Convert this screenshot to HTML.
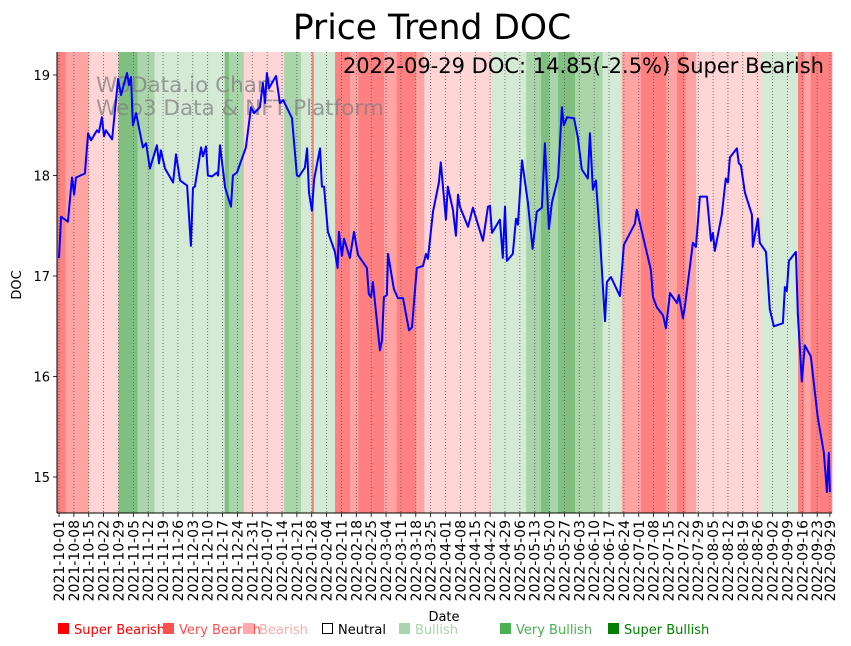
<!DOCTYPE html>
<html><head><meta charset="utf-8"><style>
body{margin:0;background:#fff;}
svg{display:block;font-family:"DejaVu Sans","Liberation Sans",sans-serif;}
</style></head><body>
<svg id="chart" width="851" height="646" viewBox="0 0 851 646" xmlns="http://www.w3.org/2000/svg">
<rect width="851" height="646" fill="#fff"/>
<g id="bands"></g>
<g id="grid"></g>
<g id="wm" fill="#808080" fill-opacity="0.75" font-size="21.5">
<text x="96" y="92">W3Data.io Chart</text>
<text x="96" y="115">Web3 Data &amp; NFT Platform</text>
</g>
<path id="line" fill="none" stroke="#0000ff" stroke-width="2" stroke-linejoin="round"/>
<g id="axes"></g>
<text x="432" y="39" text-anchor="middle" font-size="34.5">Price Trend DOC</text>
<text x="824" y="73" text-anchor="end" font-size="21">2022-09-29 DOC: 14.85(-2.5%) Super Bearish</text>
<text transform="translate(21,285) rotate(-90)" text-anchor="middle" font-size="13">DOC</text>
<text x="444" y="621" text-anchor="middle" font-size="13">Date</text>
<g font-size="13">
<g><rect x="58" y="623" width="11" height="11" fill="#ff0000"/><text x="74" y="634" fill="#ff0000">Super Bearish</text></g>
<g><rect x="163" y="623" width="11" height="11" fill="#ff5050"/><text x="179" y="634" fill="#ff5050">Very Bearish</text></g>
<g><rect x="243" y="623" width="11" height="11" fill="#ffaaaa"/><text x="259" y="634" fill="#ffaaaa">Bearish</text></g>
<g><rect x="322.5" y="623.5" width="10" height="10" fill="none" stroke="#000"/><text x="338" y="634" fill="#000">Neutral</text></g>
<g><rect x="399" y="623" width="11" height="11" fill="#aad4aa"/><text x="415" y="634" fill="#aad4aa">Bullish</text></g>
<g><rect x="500" y="623" width="11" height="11" fill="#4caf50"/><text x="516" y="634" fill="#4caf50">Very Bullish</text></g>
<g><rect x="608" y="623" width="11" height="11" fill="#008000"/><text x="624" y="634" fill="#008000">Super Bullish</text></g>
</g>
</svg>
<script>
const priceDays=[0,1,4.2,6.1,7.1,8,12.2,13.7,15.1,17.9,18.8,20.2,21.2,22.1,25,27.8,29.2,32,33,33.9,34.8,36.3,39.5,41,42.8,46.1,47.1,48,49.9,53.7,55.1,57,60.3,62.1,63.1,64,66.9,67.8,69.2,70.1,72,74.4,74.9,75.8,78.2,81,81.9,83.8,88,90.4,91.8,94.6,96,97,97.9,98.9,102.2,104,105.5,109.7,112,113,115.8,116.8,117.7,119.1,120.1,122.9,123.8,124.8,126.6,129.9,131.2,131.8,133.2,134.2,137,138.9,140.8,145,145.9,146.9,147.8,151.1,152.1,153,154.4,154.9,157.7,159.6,162,164.8,166.2,168.5,171.4,172.8,173.7,176.1,178.9,179.8,182.2,183.1,185.5,186.9,187.9,188.8,192.6,194.9,199.6,202,202.9,203.9,207.6,209,210,210.9,213.7,215.2,216.1,218,220.8,223,225,227.4,228.8,230.7,232.1,235,236.8,237.7,239.2,242.5,244.3,246.2,249,250,251.4,252.8,254.7,257.1,258,259.9,264.1,266,271.2,272.1,274.5,278.7,279.7,281.5,284.4,285.8,287.7,291,291.9,293.8,294.7,298.5,299.9,301.8,305.1,307,307.9,308.8,312.1,314,315,315.9,319.2,320.1,321.1,323,326.3,326.7,329.1,330,332.9,334.7,336.6,340.9,341.8,342.7,343.7,347,347.9,349.8,351.2,354,357.3,360.2,361.6,362.5,363];
const priceValues=[17.18,17.59,17.54,17.98,17.81,17.98,18.02,18.42,18.35,18.45,18.43,18.58,18.39,18.45,18.36,18.96,18.8,19.02,18.9,18.98,18.5,18.62,18.28,18.32,18.07,18.3,18.12,18.25,18.07,17.93,18.21,17.95,17.9,17.3,17.88,17.89,18.28,18.19,18.29,18,17.99,18.03,18,18.3,17.88,17.69,18,18.03,18.28,18.68,18.62,18.68,18.92,18.72,19.02,18.87,18.99,18.72,18.75,18.57,18,17.99,18.08,18.27,17.83,17.65,17.96,18.27,17.89,17.89,17.44,17.24,17.08,17.44,17.2,17.37,17.18,17.44,17.21,17.08,16.82,16.79,16.94,16.26,16.36,16.79,16.81,17.22,16.87,16.78,16.78,16.46,16.49,17.08,17.1,17.22,17.17,17.64,17.93,18.13,17.56,17.89,17.66,17.4,17.81,17.69,17.49,17.68,17.35,17.69,17.7,17.43,17.56,17.18,17.69,17.15,17.22,17.57,17.51,18.15,17.73,17.27,17.64,17.68,18.32,17.47,17.73,17.98,18.68,18.5,18.58,18.57,18.38,18.06,17.97,18.42,17.86,17.95,17.39,16.55,16.94,16.99,16.8,17.31,17.52,17.66,17.44,17.06,16.79,16.69,16.61,16.48,16.83,16.73,16.81,16.58,16.69,17.33,17.29,17.79,17.79,17.35,17.43,17.25,17.61,17.97,17.93,18.18,18.27,18.12,18.1,17.83,17.61,17.29,17.57,17.33,17.24,16.67,16.5,16.53,16.89,16.85,17.15,17.24,16.63,15.95,16.31,16.2,15.59,15.24,14.85,15.24,14.85];
const bandStarts=[-1,3,14,28,37,45,78,80,87,106,114,119,120,130,137,141,153,159,168,172,204,220,227,231,235,243,256,265,274,286,291,295,300,331,348,351,354];
const bandLevels=[-3,-2,-1,3,2,1,3,2,-1,2,1,-3,1,-3,-2,-3,-2,-3,-2,-1,1,2,3,2,3,2,1,-2,-3,-2,-3,-2,-1,1,-3,-2,-3];
const yTicks=[15,16,17,18,19];
const startDate=new Date(Date.UTC(2021,9,1));
const lastDay=363;

const L=57,R=832,T=52,B=513;
const dMin=-0.95,dMax=364;
function xs(d){return L+(d-dMin)/(dMax-dMin)*(R-L);}
function ys(v){return 477-(v-15)*100.5;}
const NS="http://www.w3.org/2000/svg";
function mk(tag,attrs,parent){const e=document.createElementNS(NS,tag);for(const k in attrs)e.setAttribute(k,attrs[k]);parent.appendChild(e);return e;}
const colors={"-3":"#ff8080","-2":"#ffa3a3","-1":"#ffd5d5","1":"#d5ead5","2":"#aad4aa","3":"#80bf80"};
const bandG=document.getElementById('bands');
for(let i=0;i<bandStarts.length;i++){
  const s=Math.max(bandStarts[i],dMin);const e=i+1<bandStarts.length?bandStarts[i+1]:dMax;
  const r=mk('rect',{x:xs(s),y:T,width:xs(e)-xs(s)+0.3,height:B-T,fill:colors[bandLevels[i]]},bandG);
  
  
}
const gridG=document.getElementById('grid');
const axG=document.getElementById('axes');
const tickDays=[];for(let d=0;d<=lastDay;d+=7)tickDays.push(d);if(tickDays[tickDays.length-1]!==lastDay)tickDays.push(lastDay);
function fmt(d){const t=new Date(startDate.getTime()+d*86400000);return t.toISOString().slice(0,10);}
tickDays.forEach(d=>{
  const x=xs(d);
  const gl=mk('line',{x1:x,x2:x,y1:T,y2:B,stroke:'#555','stroke-width':0.8,'stroke-dasharray':'1,2'},gridG);
  
  
  const tk=mk('line',{x1:x,x2:x,y1:B,y2:B+4,stroke:'#000','stroke-width':0.8},axG);
  
  
  const tx=mk('text',{transform:`translate(${x+5},${B+7}) rotate(-90)`,'text-anchor':'end','font-size':14},axG);
  
  
  tx.textContent=fmt(d);
});
yTicks.forEach(v=>{
  const y=ys(v);
  const tk=mk('line',{x1:L-4,x2:L,y1:y,y2:y,stroke:'#000','stroke-width':0.8},axG);
  
  
  const tx=mk('text',{x:L-7,y:y+5,'text-anchor':'end','font-size':13},axG);
  
  
  tx.textContent=v;
});
const la=mk('line',{x1:L,x2:L,y1:T,y2:B,stroke:'#000','stroke-width':1},axG);


const ba=mk('line',{x1:L,x2:R,y1:B,y2:B,stroke:'#000','stroke-width':1},axG);


let dstr='';
priceDays.forEach((d,i)=>{dstr+=(i?'L':'M')+xs(d).toFixed(1)+','+ys(priceValues[i]).toFixed(1);});
document.getElementById('line').setAttribute('d',dstr);
</script>
</body></html>
